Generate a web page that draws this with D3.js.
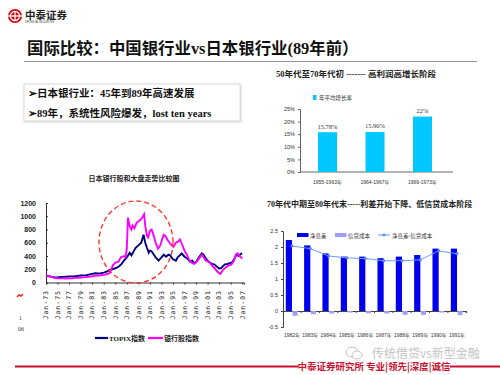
<!DOCTYPE html>
<html>
<head>
<meta charset="utf-8">
<script src="https://cdn.jsdelivr.net/npm/d3@7"></script>
<style>
  html, body { margin: 0; padding: 0; background: #fff; }
  svg text { font-family: "Liberation Serif", "Noto Sans CJK SC", serif; }
</style>
</head>
<body>
<div id="chart"></div>
<script>
// Datos del gráfico de líneas (año, valor)
const topixSeries = [
  [73.0, 100], [73.5, 95], [74.0, 85], [74.5, 75], [75.0, 78], [75.5, 82], [76.0, 85], [76.5, 88],
  [77.0, 90], [77.5, 92], [78.0, 95], [78.5, 100], [79.0, 105], [79.5, 108], [80.0, 112], [80.5, 120],
  [81.0, 130], [81.5, 140], [82.0, 135], [82.5, 140], [83.0, 150], [83.5, 165], [84.0, 185], [84.5, 200],
  [85.0, 215], [85.5, 235], [86.0, 270], [86.5, 330], [87.0, 380], [87.5, 450], [87.8, 410], [88.0, 440],
  [88.5, 520], [89.0, 560], [89.5, 600], [89.9, 720], [90.2, 600], [90.5, 520], [90.8, 450], [91.0, 480],
  [91.3, 470], [91.6, 430], [92.0, 380], [92.5, 330], [93.0, 380], [93.4, 420], [93.8, 390], [94.2, 420],
  [94.5, 410], [95.0, 350], [95.5, 330], [95.8, 380], [96.2, 410], [96.5, 440], [97.0, 390], [97.5, 360],
  [97.9, 320], [98.3, 330], [98.7, 290], [99.0, 310], [99.5, 380], [100.0, 440], [100.3, 420], [100.7, 360],
  [101.0, 330], [101.4, 300], [101.8, 280], [102.2, 270], [102.6, 240], [103.0, 210], [103.3, 215], [103.7, 250],
  [104.0, 275], [104.4, 280], [104.8, 290], [105.2, 300], [105.6, 350], [106.0, 420], [106.4, 400], [106.7, 430],
  [107.0, 440]
];

const bankSeries = [
  [73.0, 110], [73.5, 95], [74.0, 80], [74.5, 70], [75.0, 65], [75.5, 62], [76.0, 63], [76.5, 60],
  [77.0, 62], [77.5, 65], [78.0, 70], [78.5, 72], [79.0, 75], [79.5, 78], [80.0, 82], [80.5, 85],
  [81.0, 95], [81.5, 100], [82.0, 105], [82.5, 110], [83.0, 115], [83.5, 125], [84.0, 140], [84.3, 200],
  [84.6, 260], [85.0, 300], [85.5, 310], [86.0, 380], [86.5, 400], [86.8, 380], [87.0, 520], [87.2, 980],
  [87.5, 850], [87.8, 800], [88.0, 860], [88.3, 820], [88.7, 900], [89.0, 920], [89.4, 950], [89.8, 1000],
  [90.0, 1030], [90.2, 850], [90.5, 700], [90.7, 680], [91.0, 780], [91.3, 800], [91.6, 720], [92.0, 600],
  [92.4, 510], [92.8, 560], [93.1, 650], [93.4, 720], [93.7, 700], [94.0, 650], [94.4, 600], [94.8, 560],
  [95.1, 540], [95.5, 600], [95.9, 620], [96.2, 650], [96.6, 570], [97.0, 480], [97.4, 420], [97.8, 340],
  [98.2, 300], [98.6, 280], [99.0, 300], [99.5, 360], [100.0, 420], [100.3, 380], [100.7, 330], [101.0, 320],
  [101.4, 300], [101.8, 250], [102.2, 220], [102.6, 170], [103.0, 140], [103.2, 130], [103.5, 170], [103.9, 210],
  [104.3, 240], [104.7, 260], [105.1, 270], [105.5, 320], [105.9, 420], [106.2, 440], [106.5, 400], [106.8, 380],
  [107.0, 360]
];

const lineYTicks = [0, 200, 400, 600, 800, 1000, 1200];
const lineXTicks = [73, 75, 77, 79, 81, 83, 85, 87, 89, 91, 93, 95, 97, 99, 101, 103, 105, 107];
const lineXLabels = ['Jan-73', 'Jan-75', 'Jan-77', 'Jan-79', 'Jan-81', 'Jan-83', 'Jan-85', 'Jan-87', 'Jan-89',
  'Jan-91', 'Jan-93', 'Jan-95', 'Jan-97', 'Jan-99', 'Jan-01', 'Jan-03', 'Jan-05', 'Jan-07'];

// Barras: crecimiento medio anual
const growthPeriods = ['1955-1963年', '1964-1967年', '1969-1973年'];
const growthValues = [0.1578, 0.159, 0.22];
const growthLabels = ['15.78%', '15.90%', '22%'];
const growthTicks = [0, 0.05, 0.1, 0.15, 0.2, 0.25];

// Barras + línea: margen neto y coste de crédito
const nimYears = ['1982年', '1983年', '1984年', '1985年', '1986年', '1987年', '1988年', '1989年', '1990年', '1991年'];
const nimValues = [2.22, 2.05, 1.8, 1.7, 1.7, 1.65, 1.7, 1.75, 1.95, 1.95];
const creditCostValues = [-0.15, -0.1, -0.08, -0.05, -0.07, -0.08, -0.12, -0.12, -0.05, -0.13];
const nimNetValues = [2.03, 1.95, 1.72, 1.66, 1.64, 1.57, 1.57, 1.6, 1.88, 1.79];
const nimTicks = [-0.5, 0, 0.5, 1, 1.5, 2, 2.5];

const width = 500, height = 375;
const svg = d3.select('#chart').append('svg')
  .attr('width', width)
  .attr('height', height);

// ---------- Cabecera ----------
const logo = svg.append('g').attr('transform', 'translate(15,16)');
logo.append('circle').attr('r', 7).attr('fill', '#d7000f');
logo.append('circle').attr('r', 4.6).attr('fill', 'none').attr('stroke', '#fff').attr('stroke-width', 1.3);
logo.append('line').attr('x1', -7).attr('x2', 7).attr('stroke', '#fff').attr('stroke-width', 1.3);
logo.append('line').attr('y1', -4.6).attr('y2', 4.6).attr('stroke', '#fff').attr('stroke-width', 1.3);

svg.append('text').attr('x', 25).attr('y', 19)
  .style('font-family', '"Noto Sans CJK SC", sans-serif')
  .attr('font-size', 10.5).attr('font-weight', 'bold').attr('fill', '#222')
  .text('中泰证券');
svg.append('text').attr('x', 25).attr('y', 22.5)
  .style('font-family', '"Liberation Sans", sans-serif')
  .attr('font-size', 2.6).attr('fill', '#444')
  .text('ZHONGTAI SECURITIES');

svg.append('text').attr('x', 27).attr('y', 54)
  .attr('font-size', 16.4).attr('font-weight', 'bold').attr('fill', '#111')
  .text('国际比较：中国银行业vs日本银行业(89年前）');

svg.append('line').attr('x1', 24).attr('x2', 477).attr('y1', 61.5).attr('y2', 61.5)
  .attr('stroke', '#9a9a9a').attr('stroke-width', 1);

// Caja de texto
svg.append('rect').attr('x', 24).attr('y', 84).attr('width', 216).attr('height', 37)
  .attr('fill', '#fff').attr('stroke', '#d0d0d0').attr('stroke-width', 0.8)
  .style('filter', 'drop-shadow(1px 1px 1px rgba(0,0,0,0.15))');
svg.append('text').attr('x', 28).attr('y', 97)
  .attr('font-size', 10.5).attr('font-weight', 'bold').attr('fill', '#111')
  .text('➢日本银行业：45年到89年高速发展');
svg.append('text').attr('x', 28).attr('y', 117)
  .attr('font-size', 10.5).attr('font-weight', 'bold').attr('fill', '#111')
  .text('➢89年，系统性风险爆发，lost ten years');

// ---------- Gráfico de líneas ----------
const lx = d3.scaleLinear().domain([73, 107.3]).range([46, 244]);
const ly = d3.scaleLinear().domain([0, 1200]).range([282.5, 203]);

svg.append('text').attr('x', 134).attr('y', 181).attr('text-anchor', 'middle')
  .attr('font-size', 7).attr('font-weight', 'bold').attr('fill', '#222')
  .text('日本银行股和大盘走势比较图');

const lineY = svg.append('g').attr('transform', 'translate(46,0)')
  .call(d3.axisRight(ly).tickValues(lineYTicks).tickSize(2).tickFormat(''));
lineY.select('.domain').attr('stroke', '#333');
lineY.selectAll('.tick line').attr('stroke', '#333');

svg.append('g').selectAll('text').data(lineYTicks).enter().append('text')
  .attr('x', 36).attr('y', d => ly(d) + 2.5).attr('text-anchor', 'end')
  .style('font-family', '"Liberation Sans", sans-serif')
  .attr('font-size', 7).attr('font-weight', 'bold').attr('fill', '#222')
  .text(d => d);

const lineX = svg.append('g').attr('transform', 'translate(0,282.5)')
  .call(d3.axisBottom(lx).tickValues(lineXTicks).tickSize(2).tickFormat(''));
lineX.select('.domain').attr('stroke', '#333');
lineX.selectAll('.tick line').attr('stroke', '#333');

svg.append('g').selectAll('text').data(lineXTicks).enter().append('text')
  .attr('transform', d => `translate(${lx(d) + 2.3},290) rotate(-90)`)
  .attr('text-anchor', 'end')
  .style('font-family', '"DejaVu Sans Mono", monospace')
  .style('letter-spacing', '1px')
  .attr('font-size', 6.5).attr('fill', '#222')
  .text((d, i) => lineXLabels[i]);

const lineGen = d3.line().x(d => lx(d[0])).y(d => ly(d[1]));

svg.append('path').datum(topixSeries).attr('d', lineGen)
  .attr('fill', 'none').attr('stroke', '#000080').attr('stroke-width', 1.9);
svg.append('path').datum(bankSeries).attr('d', lineGen)
  .attr('fill', 'none').attr('stroke', '#ff00ff').attr('stroke-width', 1.9);

// Círculo rojo discontinuo
svg.append('ellipse').attr('cx', 136).attr('cy', 242).attr('rx', 37).attr('ry', 41)
  .attr('fill', 'none').attr('stroke', '#ff3b30').attr('stroke-width', 1.4)
  .attr('stroke-dasharray', '5,3');

// Leyenda
svg.append('line').attr('x1', 95).attr('x2', 108).attr('y1', 338).attr('y2', 338)
  .attr('stroke', '#000080').attr('stroke-width', 2.2);
svg.append('text').attr('x', 109).attr('y', 340.5)
  .attr('font-size', 7).attr('font-weight', 'bold').attr('fill', '#222').text('TOPIX指数');
svg.append('line').attr('x1', 148).attr('x2', 163).attr('y1', 338).attr('y2', 338)
  .attr('stroke', '#ff00ff').attr('stroke-width', 2.2);
svg.append('text').attr('x', 164).attr('y', 340.5)
  .attr('font-size', 7).attr('font-weight', 'bold').attr('fill', '#222').text('银行股指数');

// Restos de la diapositiva
svg.append('path').attr('d', 'M17,297 L19,295 L21,296 L23,294')
  .attr('fill', 'none').attr('stroke', '#ff2020').attr('stroke-width', 1.5);
svg.append('text').attr('x', 19).attr('y', 320).attr('font-size', 6).attr('fill', '#333').text('1');
svg.append('text').attr('x', 18).attr('y', 331).attr('font-size', 6).attr('fill', '#333').text('06');

// ---------- Barras de crecimiento ----------
svg.append('text').attr('x', 276).attr('y', 77)
  .attr('font-size', 8.5).attr('font-weight', 'bold').attr('fill', '#222')
  .text('50年代至70年代初 ------- 高利润高增长阶段');

const gx = d3.scaleBand().domain(growthPeriods).range([289.5, 460.5]).padding(0.6);
const gy = d3.scaleLinear().domain([0, 0.25]).range([172, 109]);

svg.append('rect').attr('x', 313).attr('y', 95).attr('width', 3.5).attr('height', 5).attr('fill', '#00c8ff');
svg.append('text').attr('x', 319).attr('y', 100).attr('font-size', 5.5).attr('fill', '#333').text('年平均增长率');

svg.append('g').attr('transform', 'translate(300,0)')
  .call(d3.axisLeft(gy).tickValues(growthTicks).tickSize(2).tickFormat(d3.format('.0%')))
  .call(g => g.select('.domain').attr('stroke', '#666'))
  .call(g => g.selectAll('.tick line').attr('stroke', '#666'))
  .call(g => g.selectAll('text').attr('font-size', 5.5).attr('fill', '#333')
    .style('font-family', '"Liberation Sans", sans-serif'));

svg.append('line').attr('x1', 300).attr('x2', 453).attr('y1', 172).attr('y2', 172)
  .attr('stroke', '#666').attr('stroke-width', 1);

svg.append('g').selectAll('rect').data(growthValues).enter().append('rect')
  .attr('x', (d, i) => gx(growthPeriods[i]))
  .attr('y', d => gy(d))
  .attr('width', gx.bandwidth())
  .attr('height', d => gy(0) - gy(d))
  .attr('fill', '#00c8ff');

svg.append('g').selectAll('text').data(growthValues).enter().append('text')
  .attr('x', (d, i) => gx(growthPeriods[i]) + gx.bandwidth() / 2)
  .attr('y', d => gy(d) - 3.5)
  .attr('text-anchor', 'middle').attr('font-size', 6.5).attr('fill', '#333')
  .text((d, i) => growthLabels[i]);

svg.append('g').selectAll('text').data(growthPeriods).enter().append('text')
  .attr('x', d => gx(d) + gx.bandwidth() / 2)
  .attr('y', 184)
  .attr('text-anchor', 'middle').attr('font-size', 5).attr('fill', '#333')
  .style('font-family', '"Liberation Sans", "Noto Sans CJK SC", sans-serif')
  .text(d => d);

// ---------- Margen neto vs coste de crédito ----------
svg.append('text').attr('x', 267).attr('y', 207)
  .attr('font-size', 8).attr('font-weight', 'bold').attr('fill', '#222')
  .text('70年代中期至80年代末-----利差开始下降、低信贷成本阶段');

const nx = d3.scaleBand().domain(nimYears).range([282.8, 466.2]);
const ny = d3.scaleLinear().domain([-0.5, 2.5]).range([327, 231]);
const center = y => nx(y) + nx.bandwidth() / 2;

svg.append('g').attr('transform', 'translate(283,0)')
  .call(d3.axisLeft(ny).tickValues(nimTicks).tickSize(2).tickFormat(d => d))
  .call(g => g.select('.domain').attr('stroke', '#444'))
  .call(g => g.selectAll('.tick line').attr('stroke', '#444'))
  .call(g => g.selectAll('text').attr('font-size', 5.5).attr('fill', '#333')
    .style('font-family', '"Liberation Sans", sans-serif'));

svg.append('g').attr('transform', `translate(0,${ny(0)})`)
  .call(d3.axisBottom(nx).tickSize(2).tickFormat(''))
  .call(g => g.select('.domain').attr('stroke', '#444'))
  .call(g => g.selectAll('.tick line').attr('stroke', '#444')
    .attr('transform', `translate(${nx.bandwidth() / 2},0)`));

svg.append('g').selectAll('rect').data(nimValues).enter().append('rect')
  .attr('x', (d, i) => center(nimYears[i]) - 6.2)
  .attr('y', d => ny(d))
  .attr('width', 6.2)
  .attr('height', d => ny(0) - ny(d))
  .attr('fill', '#0000ee');

svg.append('g').selectAll('rect').data(creditCostValues).enter().append('rect')
  .attr('x', (d, i) => center(nimYears[i]) + 0.6)
  .attr('y', ny(0))
  .attr('width', 5)
  .attr('height', d => ny(d) - ny(0))
  .attr('fill', '#9f9fff');

const netLine = d3.line().x((d, i) => center(nimYears[i])).y(d => ny(d));
svg.append('path').datum(nimNetValues).attr('d', netLine)
  .attr('fill', 'none').attr('stroke', '#6f9bff').attr('stroke-width', 1);
svg.append('g').selectAll('rect').data(nimNetValues).enter().append('rect')
  .attr('x', (d, i) => center(nimYears[i]) - 1.3)
  .attr('y', d => ny(d) - 1.3)
  .attr('width', 2.6).attr('height', 2.6)
  .attr('fill', '#5a86ff');

svg.append('g').selectAll('text').data(nimYears).enter().append('text')
  .attr('x', d => center(d))
  .attr('y', 337)
  .attr('text-anchor', 'middle').attr('font-size', 5).attr('fill', '#333')
  .style('font-family', '"Liberation Sans", "Noto Sans CJK SC", sans-serif')
  .text(d => d);

// Leyenda
svg.append('rect').attr('x', 297).attr('y', 233).attr('width', 11.5).attr('height', 4).attr('fill', '#0000ee');
svg.append('text').attr('x', 310).attr('y', 237.5).attr('font-size', 5.5).attr('fill', '#333').text('净息差');
svg.append('rect').attr('x', 335).attr('y', 233).attr('width', 11.5).attr('height', 4).attr('fill', '#9f9fff');
svg.append('text').attr('x', 348).attr('y', 237.5).attr('font-size', 5.5).attr('fill', '#333').text('信贷成本');
svg.append('line').attr('x1', 378).attr('x2', 390).attr('y1', 235).attr('y2', 235)
  .attr('stroke', '#6f9bff').attr('stroke-width', 1);
svg.append('rect').attr('x', 382.7).attr('y', 233.7).attr('width', 2.6).attr('height', 2.6).attr('fill', '#5a86ff');
svg.append('text').attr('x', 392).attr('y', 237.5).attr('font-size', 5.5).attr('fill', '#333').text('净息差-信贷成本');

// ---------- Pie de página ----------
const wm = svg.append('g').attr('transform', 'translate(352,353)');
wm.append('ellipse').attr('cx', 0).attr('cy', -1).attr('rx', 6).attr('ry', 5)
  .attr('fill', 'none').attr('stroke', '#c4c4c4').attr('stroke-width', 1);
wm.append('ellipse').attr('cx', 5).attr('cy', 2).attr('rx', 5).attr('ry', 4)
  .attr('fill', '#fff').attr('stroke', '#c4c4c4').attr('stroke-width', 1);
svg.append('text').attr('x', 372).attr('y', 358)
  .style('font-family', '"Noto Sans CJK SC", sans-serif')
  .attr('font-size', 12).attr('fill', '#c4c4c4')
  .text('传统借贷vs新型金融');

svg.append('line').attr('x1', 15).attr('x2', 298).attr('y1', 366.5).attr('y2', 366.5)
  .attr('stroke', '#c8102e').attr('stroke-width', 2);
svg.append('line').attr('x1', 450).attr('x2', 500).attr('y1', 366.5).attr('y2', 366.5)
  .attr('stroke', '#c8102e').attr('stroke-width', 2);
svg.append('text').attr('x', 374).attr('y', 370)
  .attr('text-anchor', 'middle')
  .style('font-family', '"Noto Sans CJK SC", sans-serif')
  .attr('font-size', 9.5).attr('font-weight', 'bold').attr('fill', '#c8102e')
  .text('中泰证券研究所 专业|领先|深度|诚信');
</script>
</body>
</html>
